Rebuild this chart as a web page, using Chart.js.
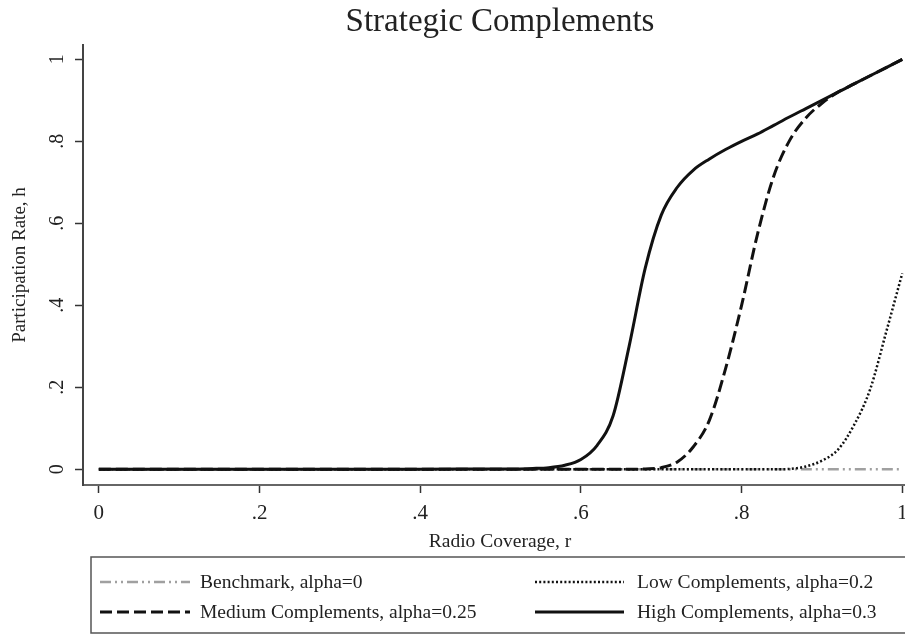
<!DOCTYPE html>
<html lang="en">
<head>
  <meta charset="UTF-8">
  <title>Strategic Complements</title>
  <script src="https://cdn.jsdelivr.net/npm/chart.js"></script>
  <style>
    body { margin: 0; background: #fff; }
    canvas { display: block; }
  </style>
</head>
<body>
  <canvas id="chart" width="905" height="635"></canvas>
  <script>
    // radio coverage r (x values shared by all series)
    const coverage = [0, 0.1, 0.2, 0.3, 0.4, 0.5, 0.52, 0.54, 0.56, 0.58, 0.6, 0.62, 0.64, 0.66, 0.68, 0.7,
      0.72, 0.74, 0.76, 0.78, 0.8, 0.82, 0.84, 0.86, 0.88, 0.9, 0.92, 0.94, 0.96, 0.98, 1];

    // participation rate h
    const benchmark = [0, 0, 0, 0, 0, 0, 0, 0, 0, 0, 0, 0, 0, 0, 0, 0,
      0, 0, 0, 0, 0, 0, 0, 0, 0, 0, 0, 0, 0, 0, 0];
    const lowComp = [0, 0, 0, 0, 0, 0, 0, 0, 0, 0, 0, 0, 0, 0, 0, 0,
      0, 0, 0, 0, 0, 0, 0, 0.001, 0.007, 0.021, 0.048, 0.108, 0.195, 0.335, 0.478];
    const mediumComp = [0, 0, 0, 0, 0, 0, 0, 0, 0, 0, 0, 0, 0, 0, 0.001, 0.004,
      0.018, 0.055, 0.12, 0.245, 0.4, 0.575, 0.715, 0.803, 0.857, 0.893, 0.92, 0.94, 0.96, 0.98, 1];
    const highComp = [0, 0, 0, 0, 0, 0.001, 0.001, 0.002, 0.004, 0.01, 0.024, 0.058, 0.13, 0.3, 0.49, 0.62,
      0.688, 0.73, 0.757, 0.78, 0.8, 0.818, 0.839, 0.86, 0.88, 0.9, 0.92, 0.94, 0.96, 0.98, 1];

    const xTicks = [0, 0.2, 0.4, 0.6, 0.8, 1];
    const yTicks = [0, 0.2, 0.4, 0.6, 0.8, 1];

    const serif = "'Liberation Serif', 'Times New Roman', serif";
    const fmt = v => v === 0 ? '0' : v === 1 ? '1' : String(+v.toFixed(1)).replace(/^0/, '');
    const pts = ys => coverage.map((x, i) => ({ x: x, y: ys[i] }));

    // order: higher number is drawn underneath
    const series = [
      { label: 'Benchmark, alpha=0', data: benchmark, color: '#a0a0a0', width: 2.5, dash: [11, 4, 2, 4, 2, 4], order: 4 },
      { label: 'Low Complements, alpha=0.2', data: lowComp, color: '#111', width: 2.5, dash: [2, 2.2], order: 3 },
      { label: 'Medium Complements, alpha=0.25', data: mediumComp, color: '#111', width: 3, dash: [12, 5], order: 2 },
      { label: 'High Complements, alpha=0.3', data: highComp, color: '#111', width: 3, dash: [], order: 1 }
    ];

    // title, rotated y labels, axis titles and the boxed legend
    const decor = {
      id: 'decor',
      afterDraw(chart) {
        const c = chart.ctx;
        const y = chart.scales.y;
        c.save();
        c.fillStyle = '#222';

        c.font = '33px ' + serif;
        c.textAlign = 'center';
        c.textBaseline = 'alphabetic';
        c.fillText('Strategic Complements', 500, 31);

        c.font = '20px ' + serif;
        yTicks.forEach(v => {
          c.save();
          c.translate(63, y.getPixelForValue(v));
          c.rotate(-Math.PI / 2);
          c.fillText(fmt(v), 0, 0);
          c.restore();
        });

        c.font = '19px ' + serif;
        c.save();
        c.translate(25, (chart.chartArea.top + chart.chartArea.bottom) / 2);
        c.rotate(-Math.PI / 2);
        c.fillText('Participation Rate, h', 0, 0);
        c.restore();

        c.font = '19.5px ' + serif;
        c.fillText('Radio Coverage, r', 500, 547);

        // legend
        c.strokeStyle = '#555';
        c.lineWidth = 1.5;
        c.strokeRect(91, 557, 820, 76);
        const slots = [
          { x0: 100, x1: 190, tx: 200, ly: 582, ty: 588 },
          { x0: 535, x1: 624, tx: 637, ly: 582, ty: 588 },
          { x0: 100, x1: 190, tx: 200, ly: 612, ty: 618 },
          { x0: 535, x1: 624, tx: 637, ly: 612, ty: 618 }
        ];
        c.textAlign = 'left';
        c.font = '19.5px ' + serif;
        series.forEach((s, k) => {
          const p = slots[k];
          c.beginPath();
          c.strokeStyle = s.color;
          c.lineWidth = s.width;
          c.setLineDash(s.dash);
          c.moveTo(p.x0, p.ly);
          c.lineTo(p.x1, p.ly);
          c.stroke();
          c.setLineDash([]);
          c.fillStyle = '#222';
          c.fillText(s.label, p.tx, p.ty);
        });
        c.restore();
      }
    };

    new Chart(document.getElementById('chart'), {
      type: 'line',
      data: {
        datasets: series.map(s => ({
          label: s.label,
          data: pts(s.data),
          order: s.order,
          borderColor: s.color,
          borderWidth: s.width,
          borderDash: s.dash,
          pointRadius: 0,
          fill: false,
          cubicInterpolationMode: 'monotone'
        }))
      },
      options: {
        responsive: false,
        animation: false,
        layout: { padding: { top: 45, right: 0, left: 0, bottom: 0 } },
        plugins: { legend: { display: false }, title: { display: false }, tooltip: { enabled: false } },
        scales: {
          x: {
            type: 'linear',
            min: -0.0197,
            max: 1.0034,
            afterBuildTicks: s => { s.ticks = xTicks.map(v => ({ value: v })); },
            afterFit: s => { s.height = 150; s.paddingLeft = 0; s.paddingRight = 0; },
            ticks: {
              callback: v => fmt(v),
              font: { family: serif, size: 21 },
              color: '#222',
              padding: 8,
              maxRotation: 0
            },
            grid: { drawOnChartArea: false, drawTicks: true, tickLength: 8, tickColor: '#333', tickWidth: 1.5 },
            border: { display: true, color: '#666', width: 2 }
          },
          y: {
            min: -0.0383,
            max: 1.035,
            afterBuildTicks: s => { s.ticks = yTicks.map(v => ({ value: v })); },
            afterFit: s => { s.width = 83; s.paddingTop = 0; s.paddingBottom = 0; },
            ticks: { display: false },
            grid: { drawOnChartArea: false, drawTicks: true, tickLength: 8, tickColor: '#333', tickWidth: 1.5 },
            border: { display: true, color: '#444', width: 2 }
          }
        }
      },
      plugins: [decor]
    });
  </script>
</body>
</html>
